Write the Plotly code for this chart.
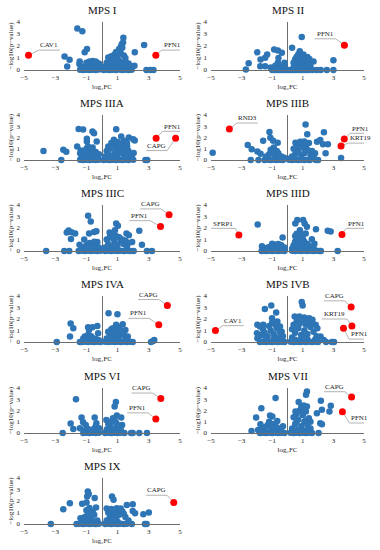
import plotly.graph_objects as go

# ---------------- data: (log2FC, -log10(p-value)) ----------------
mps_i = [(-1.58, 3.45), (-1.26, 3.23), (1.37, 2.68), (2.70, 2.08), (1.26, 2.14), (1.35, 2.30), (1.20, 1.90), (1.10, 1.75),
         (-2.40, 1.12), (-2.08, 0.85), (-2.23, 0.30), (-0.96, 1.75), (-1.11, 1.48), (2.10, 1.48), (2.08, 0.36),
         (2.85, 0.0), (3.10, 0.0), (3.30, 0.0), (-1.43, 0.70), (-1.45, 0.50),
         (-1.4, 0.02), (-1.2, 0.0), (-1.0, 0.03), (-0.8, 0.0), (-0.6, 0.02), (-0.4, 0.0), (-0.2, 0.04), (0.1, 0.0), (0.3, 0.03),
         (0.5, 0.0), (0.7, 0.02), (0.9, 0.0), (1.1, 0.04), (1.3, 0.0), (1.5, 0.02), (1.7, 0.0), (1.9, 0.03),
         (-1.3, 0.25), (-1.1, 0.30), (-0.9, 0.20), (-0.7, 0.35), (-0.5, 0.30), (-0.3, 0.25), (-0.1, 0.20), (0.2, 0.30),
         (0.4, 0.35), (0.6, 0.30), (0.8, 0.40), (1.0, 0.35), (1.2, 0.30), (1.4, 0.40), (1.6, 0.30), (1.8, 0.35),
         (-1.0, 0.60), (-0.8, 0.70), (-0.6, 0.75), (-0.4, 0.70), (-0.2, 0.55), (0.3, 0.60), (0.5, 0.70), (0.7, 0.80),
         (0.9, 0.65), (1.1, 0.75), (1.3, 0.60), (1.5, 0.70), (1.7, 0.55),
         (0.4, 1.05), (0.6, 1.15), (0.8, 1.30), (1.0, 1.10), (1.2, 1.40), (1.4, 1.20), (0.9, 1.50), (1.1, 1.65),
         (1.3, 1.85), (1.5, 1.00), (0.7, 1.00)]
mps_i_hits = [("CAV1", -4.71, 1.23), ("PFN1", 3.45, 1.23)]

mps_ii = [(0.93, 2.74), (0.30, 1.85), (0.80, 1.57), (-0.87, 1.71), (-0.63, 1.62), (-0.37, 1.43), (-1.98, 1.48),
          (-1.33, 1.29), (-1.46, 1.03), (-1.76, 0.87), (-2.54, 0.56), (-2.72, 0.05), (-1.78, 0.31), (-1.46, 0.31),
          (-0.59, 1.00), (-0.63, 0.60), (-0.20, 0.60), (3.00, 0.81), (3.00, 0.0), (2.57, 0.0), (2.17, 0.0), (1.91, 0.0),
          (1.63, 0.0), (1.70, 0.70), (1.43, 0.92), (1.30, 1.09), (1.04, 1.29), (1.22, 0.73),
          (-1.0, 0.0), (-0.85, 0.0), (-0.7, 0.0), (-0.55, 0.0), (-0.4, 0.0), (-0.25, 0.0), (-0.1, 0.0), (0.05, 0.0),
          (0.2, 0.0), (0.35, 0.0), (0.5, 0.0), (0.65, 0.0), (0.8, 0.0), (0.95, 0.0), (1.1, 0.0), (1.25, 0.0), (1.4, 0.0),
          (0.4, 0.2), (0.5, 0.4), (0.6, 0.6), (0.7, 0.3), (0.8, 0.8), (0.9, 0.5), (1.0, 1.0), (1.1, 0.7), (1.2, 0.4),
          (0.5, 0.9), (0.6, 1.1), (0.7, 1.3), (0.9, 1.2), (1.0, 0.2), (1.1, 1.1), (1.3, 0.9), (0.4, 0.6), (0.8, 0.15),
          (1.4, 0.5), (1.5, 0.3), (0.55, 0.05), (0.75, 0.1),
          (-0.9, 0.1), (-0.7, 0.2), (-0.5, 0.3), (-0.3, 0.15), (-0.2, 0.4), (-0.6, 0.45), (-0.8, 0.35), (-1.1, 0.2)]
mps_ii_hits = [("PFN1", 3.72, 2.07)]

mps_iiia = [(-3.75, 0.79), (-2.61, 0.0), (-2.48, 0.91), (-2.29, 0.74), (-1.50, 2.76), (-1.21, 2.71), (-0.61, 2.53),
            (-0.51, 2.38), (-0.97, 1.88), (-0.97, 1.65), (-0.34, 1.65), (-1.59, 1.21), (-1.36, 0.85), (0.91, 2.74),
            (1.23, 2.09), (1.72, 2.00), (2.00, 1.85), (2.10, 1.74), (0.76, 1.79), (0.97, 1.50), (1.61, 1.21),
            (2.03, 0.62), (2.00, 0.03), (2.78, 0.0), (2.90, 0.0), (-0.93, 0.62),
            (-1.4, 0.02), (-1.2, 0.0), (-1.0, 0.03), (-0.8, 0.0), (-0.6, 0.02), (-0.4, 0.0), (-0.2, 0.03), (0.1, 0.0),
            (0.3, 0.02), (0.5, 0.0), (0.7, 0.03), (0.9, 0.0), (1.1, 0.02), (1.3, 0.0), (1.5, 0.03), (1.7, 0.0),
            (-1.3, 0.3), (-1.1, 0.5), (-0.9, 0.3), (-0.7, 0.6), (-0.5, 0.4), (-0.3, 0.2), (-1.2, 0.8), (-1.0, 1.0),
            (-0.8, 0.9), (-0.6, 1.1), (-0.4, 0.7), (-1.4, 0.6), (-0.9, 1.2), (-0.2, 0.5),
            (0.2, 0.3), (0.4, 0.5), (0.6, 0.3), (0.8, 0.6), (1.0, 0.4), (1.2, 0.7), (1.4, 0.5), (1.6, 0.3), (1.8, 0.5),
            (0.3, 0.8), (0.5, 1.0), (0.7, 1.2), (0.9, 0.9), (1.1, 1.1), (1.3, 1.3), (1.5, 1.0), (1.7, 0.8), (0.6, 1.5),
            (0.8, 1.3), (1.0, 1.6), (1.2, 1.45), (1.4, 1.7), (1.6, 1.5), (0.4, 1.2), (1.9, 0.3)]
mps_iiia_hits = [("PFN1", 3.47, 1.94), ("CAPG", 4.72, 1.94)]

mps_iiib = [(-4.89, 0.64), (-2.60, 1.33), (-2.34, 0.96), (-2.40, 0.0), (-1.90, 0.0), (-1.97, 0.75), (-1.76, 0.55),
            (-1.59, 1.71), (-1.18, 2.49), (-1.12, 1.97), (-0.94, 1.71), (-0.64, 1.54), (1.18, 3.16), (1.29, 2.29),
            (2.38, 2.46), (2.14, 1.77), (1.93, 1.62), (2.32, 1.39), (2.49, 0.61), (2.64, 1.39), (3.50, 0.17),
            (1.85, 0.0), (2.00, 0.0), (1.46, 0.0), (0.52, 1.54), (0.82, 1.62),
            (-1.5, 0.0), (-1.3, 0.02), (-1.1, 0.0), (-0.9, 0.03), (-0.7, 0.0), (-0.5, 0.02), (-0.3, 0.0), (0.1, 0.02),
            (0.3, 0.0), (0.5, 0.03), (0.7, 0.0), (0.9, 0.02), (1.1, 0.0), (1.3, 0.03),
            (-1.4, 0.3), (-1.2, 0.5), (-1.0, 0.7), (-0.8, 0.4), (-0.6, 0.6), (-0.4, 0.3), (-0.2, 0.2), (-1.1, 0.9),
            (-0.9, 1.1), (-0.7, 0.8), (-1.3, 0.15), (-0.5, 0.1),
            (0.3, 0.3), (0.5, 0.5), (0.7, 0.8), (0.9, 0.4), (1.1, 0.6), (1.3, 0.9), (1.5, 0.5), (1.7, 0.3), (0.4, 1.0),
            (0.6, 1.2), (0.8, 1.4), (1.0, 1.1), (1.2, 1.3), (1.4, 1.5), (1.6, 0.8), (0.9, 1.6), (1.1, 1.65), (1.8, 0.6),
            (0.2, 0.15)]
mps_iiib_hits = [("RND3", -3.80, 2.75), ("PFN1", 3.71, 1.86), ("KRT19", 3.50, 1.25)]

mps_iiic = [(-3.58, 0.0), (-2.42, 0.0), (-2.10, 0.0), (-2.26, 1.60), (-2.14, 1.78), (-1.95, 1.64), (-1.72, 1.52),
            (-1.99, 1.05), (-1.44, 0.55), (-1.14, 0.99), (-0.89, 3.07), (-0.72, 2.57), (-0.83, 1.52), (-0.51, 1.66),
            (-0.36, 1.72), (-0.30, 0.79), (0.91, 2.39), (1.02, 2.19), (0.83, 1.81), (1.57, 1.52), (1.72, 1.37),
            (2.39, 1.75), (1.93, 0.79), (2.56, 0.55), (2.03, 0.0), (2.88, 0.0), (3.20, 0.0), (0.49, 1.60), (0.66, 1.37),
            (-1.5, 0.0), (-1.3, 0.02), (-1.1, 0.0), (-0.9, 0.03), (-0.7, 0.0), (-0.5, 0.02), (-0.3, 0.0), (-0.1, 0.03),
            (0.2, 0.0), (0.4, 0.02), (0.6, 0.0), (0.8, 0.03), (1.0, 0.0), (1.2, 0.02), (1.4, 0.0), (1.6, 0.03), (1.8, 0.0),
            (-1.2, 0.3), (-1.0, 0.5), (-0.8, 0.7), (-0.6, 0.4), (-0.4, 0.6), (-0.2, 0.3), (-0.9, 0.2), (-0.5, 0.8),
            (-1.3, 0.15),
            (0.2, 0.3), (0.4, 0.6), (0.6, 0.4), (0.8, 0.8), (1.0, 0.5), (1.2, 0.9), (1.4, 0.6), (1.6, 0.3), (0.3, 1.0),
            (0.5, 1.2), (0.7, 1.1), (0.9, 1.3), (1.1, 1.2), (1.3, 1.0), (1.5, 0.9), (0.6, 1.45), (0.8, 0.2), (1.7, 0.7)]
mps_iiic_hits = [("CAPG", 4.30, 3.15), ("PFN1", 3.75, 2.13)]

mps_iiid = [(-1.95, 2.31), (-1.67, 0.41), (-1.00, 0.64), (-0.32, 1.17), (0.51, 2.39), (0.64, 2.69), (1.02, 2.69),
            (1.12, 2.39), (0.81, 1.81), (1.27, 2.10), (1.19, 1.52), (0.85, 1.43), (1.86, 1.90), (1.59, 1.02),
            (1.76, 0.64), (2.63, 1.75), (2.82, 1.69), (3.28, 0.0), (2.18, 0.0), (-1.69, 0.0),
            (-1.6, 0.02), (-1.4, 0.0), (-1.2, 0.03), (-1.0, 0.0), (-0.8, 0.02), (-0.6, 0.0), (-0.4, 0.03), (-0.2, 0.0),
            (0.3, 0.02), (0.5, 0.0), (0.7, 0.03), (0.9, 0.0), (1.1, 0.02), (1.3, 0.0), (1.5, 0.03), (1.7, 0.0),
            (1.9, 0.02), (2.1, 0.0),
            (-1.6, 0.15), (-1.4, 0.25), (-1.2, 0.35), (-1.0, 0.45), (-0.8, 0.55), (-0.6, 0.60), (-0.4, 0.50),
            (-0.2, 0.30), (-1.3, 0.10), (-0.9, 0.20), (-0.5, 0.25), (-0.7, 0.30),
            (0.3, 0.2), (0.4, 0.5), (0.5, 0.8), (0.6, 0.3), (0.7, 1.0), (0.8, 0.6), (0.9, 1.2), (1.0, 0.4), (1.1, 0.8),
            (1.2, 0.3), (1.3, 0.6), (1.4, 0.2), (0.5, 1.3), (0.6, 1.5), (0.8, 1.35), (1.0, 1.1), (1.5, 0.4), (1.7, 0.3),
            (0.45, 0.1)]
mps_iiid_hits = [("SFRP1", -3.18, 1.40), ("PFN1", 3.56, 1.43)]

mps_iva = [(-2.90, 0.0), (-2.01, 1.61), (-1.84, 1.20), (-2.05, 0.47), (-1.42, 0.0), (-0.89, 1.28), (-0.83, 1.05),
           (-0.61, 1.28), (-0.30, 1.40), (-0.25, 0.76), (-1.10, 0.47), (0.42, 2.51), (0.99, 2.42), (1.33, 1.55),
           (0.91, 1.49), (0.70, 1.20), (1.50, 1.05), (1.65, 0.47), (1.97, 0.0), (3.14, 0.0), (3.28, 0.09), (3.35, 0.18),
           (-1.3, 0.0), (-1.1, 0.02), (-0.9, 0.0), (-0.7, 0.03), (-0.5, 0.0), (-0.3, 0.02), (-0.1, 0.0), (0.2, 0.03),
           (0.4, 0.0), (0.6, 0.02), (0.8, 0.0), (1.0, 0.03), (1.2, 0.0), (1.4, 0.02), (1.6, 0.0), (1.8, 0.03),
           (-1.2, 0.3), (-1.0, 0.4), (-0.8, 0.2), (-0.6, 0.35), (-0.4, 0.25), (-0.2, 0.15), (-0.9, 0.6), (-0.7, 0.5),
           (0.3, 0.3), (0.5, 0.6), (0.7, 0.4), (0.9, 0.8), (1.1, 0.5), (1.3, 0.7), (1.5, 0.4), (0.4, 0.9), (0.6, 1.1),
           (0.8, 1.2), (1.0, 1.35), (1.2, 1.0), (1.4, 0.9), (0.7, 0.8), (0.9, 0.2), (1.1, 1.2), (1.6, 0.2)]
mps_iva_hits = [("CAPG", 4.19, 3.18), ("PFN1", 3.64, 1.49)]

mps_ivb = [(-1.48, 2.86), (-1.06, 3.18), (-1.97, 1.49), (-1.80, 1.34), (-2.00, 0.76), (-1.97, 0.32), (-1.59, 1.49),
           (-1.01, 2.07), (-0.74, 2.57), (-0.66, 1.78), (-0.49, 1.34), (-0.38, 0.90), (0.93, 3.47), (0.99, 3.18),
           (0.47, 2.22), (0.78, 2.22), (1.10, 2.13), (1.42, 2.07), (1.63, 1.93), (1.84, 1.49), (1.95, 1.20),
           (2.16, 0.47), (2.37, 0.18), (2.52, 0.0), (2.90, 0.0), (3.04, 0.0),
           (-1.8, 0.0), (-1.6, 0.02), (-1.4, 0.0), (-1.2, 0.03), (-1.0, 0.0), (-0.8, 0.02), (-0.6, 0.0), (-0.4, 0.03),
           (-0.2, 0.0), (0.2, 0.02), (0.4, 0.0), (0.6, 0.03), (0.8, 0.0), (1.0, 0.02), (1.2, 0.0), (1.4, 0.03),
           (1.6, 0.0), (1.8, 0.02), (2.0, 0.0),
           (-1.9, 0.4), (-1.7, 0.6), (-1.5, 0.8), (-1.3, 0.5), (-1.1, 1.0), (-0.9, 0.7), (-0.7, 1.2), (-0.5, 0.9),
           (-0.3, 0.5), (-1.2, 1.4), (-1.0, 1.7), (-0.8, 1.5), (-0.6, 0.4), (-1.4, 0.3), (-0.4, 0.2), (-1.6, 1.1),
           (-0.9, 0.25),
           (0.3, 0.4), (0.5, 0.8), (0.7, 1.2), (0.9, 0.6), (1.1, 1.0), (1.3, 0.7), (1.5, 1.3), (1.7, 0.9), (1.9, 0.5),
           (0.4, 1.5), (0.6, 1.8), (0.8, 1.6), (1.0, 1.9), (1.2, 1.5), (1.4, 1.8), (1.6, 1.6), (0.5, 0.2), (0.9, 0.3),
           (1.3, 0.25), (1.8, 0.2), (0.3, 1.1), (1.1, 0.4)]
mps_ivb_hits = [("CAV1", -4.71, 0.99), ("CAPG", 4.16, 3.04), ("KRT19", 4.21, 1.40), ("PFN1", 3.66, 1.20)]

mps_vi = [(-1.67, 2.99), (-2.52, 0.0), (-2.01, 0.84), (-1.84, 0.36), (-1.31, 1.37), (-1.21, 0.96), (-1.42, 0.42),
          (-1.04, 0.72), (-0.47, 1.37), (-0.36, 0.87), (-0.19, 0.42), (0.89, 2.75), (0.81, 2.36), (0.95, 1.55),
          (0.70, 1.31), (0.28, 1.16), (1.23, 1.37), (1.29, 0.72), (1.44, 0.0), (1.86, 0.0), (1.97, 0.0), (2.39, 0.0),
          (2.88, 0.0),
          (-1.2, 0.0), (-1.0, 0.02), (-0.8, 0.0), (-0.6, 0.03), (-0.4, 0.0), (-0.2, 0.02), (0.2, 0.0), (0.4, 0.03),
          (0.6, 0.0), (0.8, 0.02), (1.0, 0.0), (1.2, 0.03),
          (-1.1, 0.2), (-0.9, 0.35), (-0.7, 0.25), (-0.5, 0.4), (-0.3, 0.3), (-0.4, 0.6), (-0.6, 0.15),
          (0.3, 0.3), (0.5, 0.6), (0.7, 0.4), (0.9, 0.9), (1.1, 0.5), (0.4, 0.8), (0.6, 1.0), (0.8, 1.2), (1.0, 0.7),
          (1.2, 0.3), (0.5, 0.15), (0.9, 0.2)]
mps_vi_hits = [("CAPG", 3.77, 3.07), ("PFN1", 3.45, 1.25)]

mps_vii = [(-0.78, 3.10), (-1.71, 2.21), (-2.05, 1.37), (-1.77, 0.78), (-2.35, 0.18), (-1.92, 0.27), (-1.14, 1.55),
           (-0.99, 1.46), (-0.67, 1.07), (1.27, 3.70), (1.21, 3.40), (0.73, 2.75), (1.06, 2.45), (1.27, 2.36),
           (2.18, 2.87), (2.83, 2.42), (2.25, 2.06), (2.74, 1.91), (1.92, 1.76), (0.52, 1.91), (2.14, 0.87),
           (2.25, 0.78), (2.03, 0.0), (1.60, 0.0),
           (-1.8, 0.0), (-1.6, 0.02), (-1.4, 0.0), (-1.2, 0.03), (-1.0, 0.0), (-0.8, 0.02), (-0.6, 0.0), (-0.4, 0.03),
           (-0.2, 0.0), (0.2, 0.02), (0.4, 0.0), (0.6, 0.03), (0.8, 0.0), (1.0, 0.02), (1.2, 0.0), (1.4, 0.03),
           (-1.7, 0.3), (-1.5, 0.5), (-1.3, 0.7), (-1.1, 0.4), (-0.9, 0.8), (-0.7, 0.5), (-0.5, 0.3), (-0.3, 0.6),
           (-1.2, 1.0), (-0.8, 0.2), (-0.4, 0.15), (-1.5, 0.15),
           (0.3, 0.4), (0.5, 0.8), (0.7, 1.2), (0.9, 0.6), (1.1, 1.0), (1.3, 0.7), (1.5, 0.4), (0.4, 1.4), (0.6, 1.7),
           (0.8, 2.0), (1.0, 1.6), (1.2, 1.9), (1.4, 1.3), (0.9, 2.3), (1.1, 2.2), (0.5, 0.2), (0.7, 0.3), (1.0, 0.25),
           (1.3, 0.2), (0.6, 1.0), (1.2, 1.1), (1.5, 1.0)]
mps_vii_hits = [("CAPG", 4.19, 3.19), ("PFN1", 3.59, 1.88)]

mps_ix = [(-3.28, 0.0), (-2.48, 1.28), (-2.06, 1.81), (-1.27, 1.75), (-0.99, 1.87), (-0.91, 2.83), (-0.85, 2.60),
          (-0.95, 2.39), (-0.47, 2.25), (-0.38, 1.43), (-1.38, 0.50), (-1.63, 0.0), (0.64, 2.39), (0.74, 2.10),
          (0.95, 1.37), (1.59, 1.66), (1.97, 1.72), (1.97, 1.14), (2.12, 0.93), (2.65, 0.85), (3.00, 0.99),
          (2.75, 0.0), (2.86, 0.0), (1.91, 0.0),
          (-1.4, 0.02), (-1.2, 0.0), (-1.0, 0.03), (-0.8, 0.0), (-0.6, 0.02), (-0.4, 0.0), (-0.2, 0.03), (0.2, 0.0),
          (0.4, 0.02), (0.6, 0.0), (0.8, 0.03), (1.0, 0.0), (1.2, 0.02), (1.4, 0.0), (1.6, 0.03),
          (-1.3, 0.3), (-1.1, 0.6), (-0.9, 0.9), (-0.7, 0.5), (-0.5, 0.8), (-0.3, 0.3), (-1.0, 1.2), (-0.8, 1.4),
          (-0.6, 1.1), (-1.2, 0.15), (-0.4, 0.2), (-0.9, 0.35),
          (0.3, 0.3), (0.5, 0.6), (0.7, 0.9), (0.9, 0.5), (1.1, 0.8), (1.3, 1.1), (1.5, 0.6), (1.7, 0.3), (0.4, 1.0),
          (0.6, 1.3), (0.8, 1.2), (1.0, 1.0), (1.2, 1.35), (1.4, 0.9), (0.6, 0.2), (1.0, 0.2), (0.3, 1.35)]
mps_ix_hits = [("CAPG", 4.60, 1.87)]

panel_titles = ["MPS I", "MPS II", "MPS IIIA", "MPS IIIB", "MPS IIIC", "MPS IIID",
                "MPS IVA", "MPS IVB", "MPS VI", "MPS VII", "MPS IX"]
panel_points = [mps_i, mps_ii, mps_iiia, mps_iiib, mps_iiic, mps_iiid, mps_iva, mps_ivb, mps_vi, mps_vii, mps_ix]
panel_hits = [mps_i_hits, mps_ii_hits, mps_iiia_hits, mps_iiib_hits, mps_iiic_hits, mps_iiid_hits,
              mps_iva_hits, mps_ivb_hits, mps_vi_hits, mps_vii_hits, mps_ix_hits]

x_ticks = [-5, -3, -1, 1, 3, 5]
y_ticks = [0, 1, 2, 3, 4]
X_RANGE = [-5, 5]
Y_RANGE = [0, 4]
x_title = "log\u2082FC"
y_title = "\u2212log10(p\u2212value)"

# ---------------- label placement (offsets of label text from its point, in axis units) ----------------
label_offsets = {
    ("MPS I", "CAV1"): (1.34, 0.85), ("MPS I", "PFN1"): (1.05, 0.85),
    ("MPS II", "PFN1"): (-1.26, 0.95),
    ("MPS IIIA", "PFN1"): (1.08, 1.03), ("MPS IIIA", "CAPG"): (-1.21, -0.68),
    ("MPS IIIB", "RND3"): (1.18, 0.96), ("MPS IIIB", "PFN1"): (1.07, 0.93), ("MPS IIIB", "KRT19"): (1.29, 0.67),
    ("MPS IIIC", "CAPG"): (-1.19, 0.93), ("MPS IIIC", "PFN1"): (-1.33, 0.93),
    ("MPS IIID", "SFRP1"): (-1.04, 0.99), ("MPS IIID", "PFN1"): (0.95, 0.96),
    ("MPS IVA", "CAPG"): (-1.21, 0.93), ("MPS IVA", "PFN1"): (-1.29, 0.99),
    ("MPS IVB", "CAV1"): (1.16, 0.85), ("MPS IVB", "CAPG"): (-1.10, 0.96), ("MPS IVB", "KRT19"): (-1.14, 1.02),
    ("MPS IVB", "PFN1"): (1.04, -0.53),
    ("MPS VI", "CAPG"): (-1.21, 0.90), ("MPS VI", "PFN1"): (-1.17, 0.96),
    ("MPS VII", "CAPG"): (-1.12, 0.90), ("MPS VII", "PFN1"): (1.14, -0.57),
    ("MPS IX", "CAPG"): (-1.10, 1.05),
}

# ---------------- layout geometry (pixels) ----------------
W, H = 380, 550
col_px = [(24, 180), (211, 364)]
row_px = [(22, 70), (115, 160), (205, 251), (296, 342), (388, 433), (478, 524)]

FONT = "Liberation Serif"
BLUE = "#2E75B6"
RED = "#FF0000"
AXIS = "#6E6E6E"
LEADER = "#A0A0A0"

fig = go.Figure()
annotations = []
layout_axes = {}

for i, (title, pts, hits) in enumerate(zip(panel_titles, panel_points, panel_hits)):
    r, c = divmod(i, 2)
    n = i + 1
    xref = "x" if n == 1 else f"x{n}"
    yref = "y" if n == 1 else f"y{n}"
    x0, x1 = col_px[c]
    t, b = row_px[r]
    x_px_per_unit = (x1 - x0) / (X_RANGE[1] - X_RANGE[0])

    def to_paper(vx, vy):
        px = x0 + (vx - X_RANGE[0]) / (X_RANGE[1] - X_RANGE[0]) * (x1 - x0)
        py = b - (vy - Y_RANGE[0]) / (Y_RANGE[1] - Y_RANGE[0]) * (b - t)
        return px / W, 1 - py / H

    layout_axes["xaxis" if n == 1 else f"xaxis{n}"] = dict(
        domain=[x0 / W, x1 / W], anchor=yref, range=X_RANGE, tickvals=x_ticks,
        showgrid=False, showline=True, linecolor=AXIS, linewidth=1, mirror=False,
        zeroline=True, zerolinecolor=AXIS, zerolinewidth=1, ticks="",
        tickfont=dict(family=FONT, size=7, color="#222"), ticklabelstandoff=1, fixedrange=True,
        title=dict(text=x_title, standoff=2, font=dict(family=FONT, size=7, color="#222")), automargin=False)
    layout_axes["yaxis" if n == 1 else f"yaxis{n}"] = dict(
        domain=[1 - b / H, 1 - t / H], anchor=xref, range=Y_RANGE, tickvals=y_ticks,
        showgrid=False, showline=False, zeroline=False, ticks="",
        tickfont=dict(family=FONT, size=7, color="#222"), ticklabelstandoff=3, fixedrange=True,
        title=dict(text=y_title, standoff=2, font=dict(family=FONT, size=7, color="#222")), automargin=False)

    # leader lines for highlighted proteins (drawn first so markers cover their ends)
    for gene, gx, gy in hits:
        dx, dy = label_offsets[(title, gene)]
        tx, ty = gx + dx, gy + dy
        hw = (0.6 * 7 * len(gene) / 2 + 2) / x_px_per_unit
        uy = ty - 0.42
        near = tx - hw if gx < tx else tx + hw
        far = tx + hw if gx < tx else tx - hw
        fig.add_trace(go.Scatter(x=[gx, near, far], y=[gy, uy, uy], mode="lines",
                                 line=dict(color=LEADER, width=0.8), xaxis=xref, yaxis=yref,
                                 hoverinfo="skip", showlegend=False, cliponaxis=False))
        ax_, ay_ = to_paper(tx, ty)
        annotations.append(dict(x=ax_, y=ay_, xref="paper", yref="paper", text=gene, showarrow=False,
                                xanchor="center", yanchor="middle",
                                font=dict(family=FONT, size=7, color="#222")))

    fig.add_trace(go.Scatter(x=[p[0] for p in pts], y=[p[1] for p in pts], mode="markers",
                             marker=dict(color=BLUE, size=6.5, line=dict(width=0)),
                             xaxis=xref, yaxis=yref, showlegend=False, cliponaxis=False))
    fig.add_trace(go.Scatter(x=[h[1] for h in hits], y=[h[2] for h in hits], mode="markers",
                             marker=dict(color=RED, size=7, line=dict(width=0)),
                             xaxis=xref, yaxis=yref, showlegend=False, cliponaxis=False))

    cx = (x0 + x1) / 2
    annotations.append(dict(x=cx / W, y=1 - (t - 12) / H, xref="paper", yref="paper", text=title,
                            showarrow=False, font=dict(family=FONT, size=11, color="#111"),
                            xanchor="center", yanchor="middle"))

fig.update_layout(width=W, height=H, margin=dict(l=0, r=0, t=0, b=0),
                  paper_bgcolor="white", plot_bgcolor="white",
                  annotations=annotations, **layout_axes)

fig.write_html("out.html", config={"displayModeBar": False},
               post_script="document.body.style.margin='0';document.body.style.overflow='hidden';")
